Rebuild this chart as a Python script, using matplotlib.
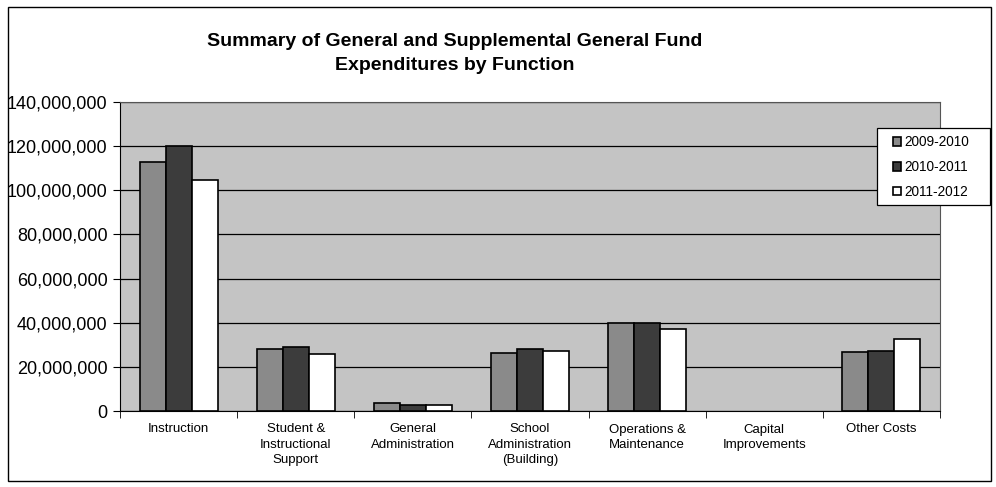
import matplotlib
matplotlib.use("Agg")
import matplotlib.pyplot as plt
import numpy as np
from matplotlib.patches import Rectangle

plt.rcParams['font.family'] = ['Liberation Sans', 'DejaVu Sans']

categories = ["Instruction", "Student &\nInstructional\nSupport", "General\nAdministration",
              "School\nAdministration\n(Building)", "Operations &\nMaintenance",
              "Capital\nImprovements", "Other Costs"]
series_names = ["2009-2010", "2010-2011", "2011-2012"]
v2009 = [112800000, 28100000, 3500000, 26100000, 39700000, 0, 26600000]
v2010 = [120000000, 29000000, 2700000, 28100000, 39700000, 0, 27300000]
v2011 = [104700000, 25700000, 2900000, 27000000, 37300000, 0, 32600000]
yticks = [0, 20000000, 40000000, 60000000, 80000000, 100000000, 120000000, 140000000]

colors = ["#8a8a8a", "#3c3c3c", "#ffffff"]

fig = plt.figure(figsize=(9.96, 4.87), dpi=100)
ax = fig.add_axes([120/996, 1-411/487, 820/996, 309/487])
ax.set_facecolor("#c4c4c4")

x = np.arange(len(categories))
w = 1/4.5
for i, (vals, c) in enumerate(zip([v2009, v2010, v2011], colors)):
    lws = [1.2 if v > 0 else 0 for v in vals]
    ax.bar(x + (i-1)*w, vals, width=w, color=c, edgecolor="black", linewidth=lws,
           label=series_names[i], zorder=3)

ax.set_xlim(-0.5, len(categories)-0.5)
ax.set_ylim(0, 140000000)
ax.set_yticks(yticks)
ax.set_yticklabels([f"{v:,}" for v in yticks], fontsize=13)
ax.yaxis.grid(True, color="black", linewidth=0.9, zorder=1)
ax.set_axisbelow(True)

ax.set_xticks(x)
ax.set_xticklabels(categories, fontsize=9.5, linespacing=1.35)
ax.tick_params(axis='x', length=0, pad=9)
ax.set_xticks(np.arange(-0.5, len(categories)), minor=True)
ax.tick_params(axis='x', which='minor', length=5, direction='out')
ax.tick_params(axis='y', length=5, direction='out', pad=4)

for s in ['top', 'right']:
    ax.spines[s].set_color("#555555")
    ax.spines[s].set_linewidth(0.8)

fig.text(0.457, 1-33/487, "Summary of General and Supplemental General Fund\nExpenditures by Function",
         ha='center', va='top', fontsize=14, fontweight='bold', linespacing=1.5)

# legend box
fig.patches.append(Rectangle((877/996, 1-205/487), 113/996, 77/487, transform=fig.transFigure,
                             facecolor="white", edgecolor="black", linewidth=0.9, zorder=5))
handles, labels = ax.get_legend_handles_labels()
leg = fig.legend(handles, labels, loc='center left', bbox_to_anchor=(893/996, 1-167/487),
                 fontsize=9.8, frameon=False,
                 handlelength=0.6, handleheight=0.6, handletextpad=0.25,
                 labelspacing=0.8, borderpad=0, borderaxespad=0)
leg.set_zorder(6)

fig.patches.append(Rectangle((8/996, 6/487), 983/996, 474/487, transform=fig.transFigure,
                             fill=False, edgecolor="black", linewidth=1.0))

fig.savefig("out.png", dpi=100)
